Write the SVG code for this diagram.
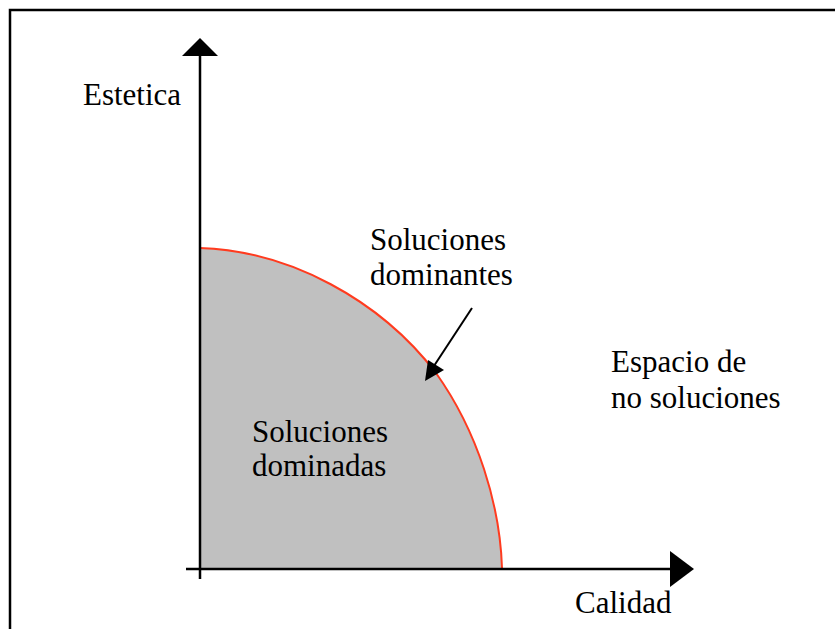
<svg xmlns="http://www.w3.org/2000/svg" width="835" height="629" viewBox="0 0 835 629">
<style>
.t{font-family:'Liberation Serif','Times New Roman',Times,'DejaVu Serif',serif;font-size:31px;fill:#000}
.ax{stroke:#000;stroke-width:2.5;fill:none}
</style>
<rect width="835" height="629" fill="#fff"/>
<path d="M10,629 L10,10 L835,10" stroke="#000" stroke-width="2.5" fill="none"/>
<g id="region">
<path d="M200,248 C290,251 380,300 436,373 C478,432 500,505 502,568 L200,568 Z" fill="#c0c0c0"/>
<path d="M200,248 C290,251 380,300 436,373 C478,432 500,505 502,568" stroke="#ff3b1f" stroke-width="2" fill="none"/>
</g>
<g id="axes">
<line class="ax" x1="200" y1="579" x2="200" y2="52"/>
<path d="M200,38 L218,56 L182,56 Z" fill="#000"/>
<line class="ax" x1="186" y1="569" x2="672" y2="569"/>
<path d="M694,569 L670,551 L670,587 Z" fill="#000"/>
</g>
<g id="connectors">
<line x1="472" y1="308" x2="430" y2="372" stroke="#000" stroke-width="2"/>
<path d="M425,381 L428,360 L444,370 Z" fill="#000"/>
</g>
<g id="labels">
<text class="t" x="83" y="105">Estetica</text>
<text class="t" x="370" y="250">Soluciones</text>
<text class="t" x="370" y="285">dominantes</text>
<text class="t" x="611" y="372">Espacio de</text>
<text class="t" x="611" y="408">no soluciones</text>
<text class="t" x="252" y="442">Soluciones</text>
<text class="t" x="252" y="476">dominadas</text>
<text class="t" x="575" y="613">Calidad</text>
</g>
</svg>
